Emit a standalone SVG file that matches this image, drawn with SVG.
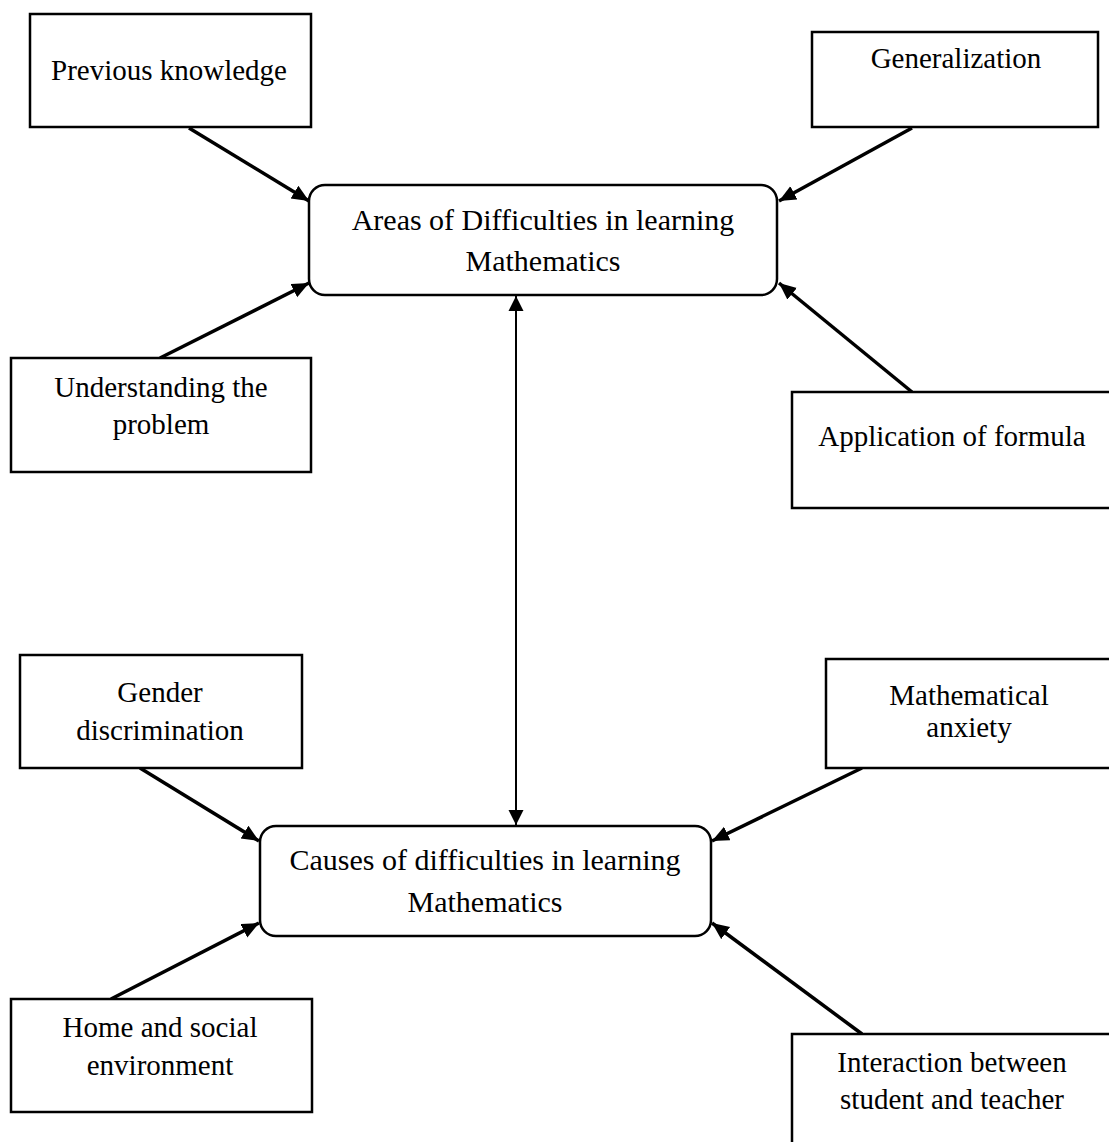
<svg xmlns="http://www.w3.org/2000/svg" width="1109" height="1142" viewBox="0 0 1109 1142">
<style>
  .box { fill: #fff; stroke: #000; stroke-width: 2.5; }
  .t { font-family: "Liberation Serif", "Times New Roman", serif; font-size: 29px; fill: #000; text-anchor: middle; }
  .tc { font-family: "Liberation Serif", "Times New Roman", serif; font-size: 30px; fill: #000; text-anchor: middle; }
  .c { stroke: #000; stroke-width: 3.5; fill: none; marker-end: url(#ah); }
  .v { stroke: #000; stroke-width: 2; fill: none; marker-end: url(#ahs); marker-start: url(#ahs0); }
</style>
<defs>
  <marker id="ah" markerUnits="userSpaceOnUse" markerWidth="20" markerHeight="16" refX="17" refY="7.5" orient="auto">
    <path d="M0,0 L17,7.5 L0,15 Z" fill="#000"/>
  </marker>
  <marker id="ahs" markerUnits="userSpaceOnUse" markerWidth="16" markerHeight="16" refX="15" refY="7.5" orient="auto">
    <path d="M0,0 L15,7.5 L0,15 Z" fill="#000"/>
  </marker>
  <marker id="ahs0" markerUnits="userSpaceOnUse" markerWidth="16" markerHeight="16" refX="0" refY="7.5" orient="auto">
    <path d="M15,0 L0,7.5 L15,15 Z" fill="#000"/>
  </marker>
</defs>

<g id="connectors">
  <line class="c" x1="189" y1="128" x2="309" y2="201"/>
  <line class="c" x1="912" y1="128" x2="779" y2="201"/>
  <line class="c" x1="160" y1="358" x2="309" y2="283"/>
  <line class="c" x1="912" y1="392" x2="779" y2="283"/>
  <line class="v" x1="516" y1="296" x2="516" y2="825"/>
  <line class="c" x1="140" y1="768" x2="259" y2="841"/>
  <line class="c" x1="862" y1="768" x2="712" y2="841"/>
  <line class="c" x1="111" y1="999" x2="259" y2="923"/>
  <line class="c" x1="862" y1="1034" x2="712" y2="923"/>
</g>

<g id="n-previous">
  <rect class="box" x="30" y="14" width="281" height="113"/>
  <text class="t" x="169" y="80">Previous knowledge</text>
</g>
<g id="n-generalization">
  <rect class="box" x="812" y="32" width="286" height="95"/>
  <text class="t" x="956" y="68">Generalization</text>
</g>
<g id="n-areas">
  <rect class="box" x="309" y="185" width="468" height="110" rx="16" ry="16"/>
  <text class="tc" x="543" y="230">Areas of Difficulties in learning</text>
  <text class="tc" x="543" y="271">Mathematics</text>
</g>
<g id="n-understanding">
  <rect class="box" x="11" y="358" width="300" height="114"/>
  <text class="t" x="161" y="397">Understanding the</text>
  <text class="t" x="161" y="434">problem</text>
</g>
<g id="n-application">
  <rect class="box" x="792" y="392" width="330" height="116"/>
  <text class="t" x="952" y="446">Application of formula</text>
</g>
<g id="n-gender">
  <rect class="box" x="20" y="655" width="282" height="113"/>
  <text class="t" x="160" y="702">Gender</text>
  <text class="t" x="160" y="740">discrimination</text>
</g>
<g id="n-anxiety">
  <rect class="box" x="826" y="659" width="300" height="109"/>
  <text class="t" x="969" y="705">Mathematical</text>
  <text class="t" x="969" y="737">anxiety</text>
</g>
<g id="n-causes">
  <rect class="box" x="260" y="826" width="451" height="110" rx="16" ry="16"/>
  <text class="tc" x="485" y="870">Causes of difficulties in learning</text>
  <text class="tc" x="485" y="912">Mathematics</text>
</g>
<g id="n-home">
  <rect class="box" x="11" y="999" width="301" height="113"/>
  <text class="t" x="160" y="1037">Home and social</text>
  <text class="t" x="160" y="1075">environment</text>
</g>
<g id="n-interaction">
  <rect class="box" x="792" y="1034" width="330" height="130"/>
  <text class="t" x="952" y="1072">Interaction between</text>
  <text class="t" x="952" y="1109">student and teacher</text>
</g>
</svg>
